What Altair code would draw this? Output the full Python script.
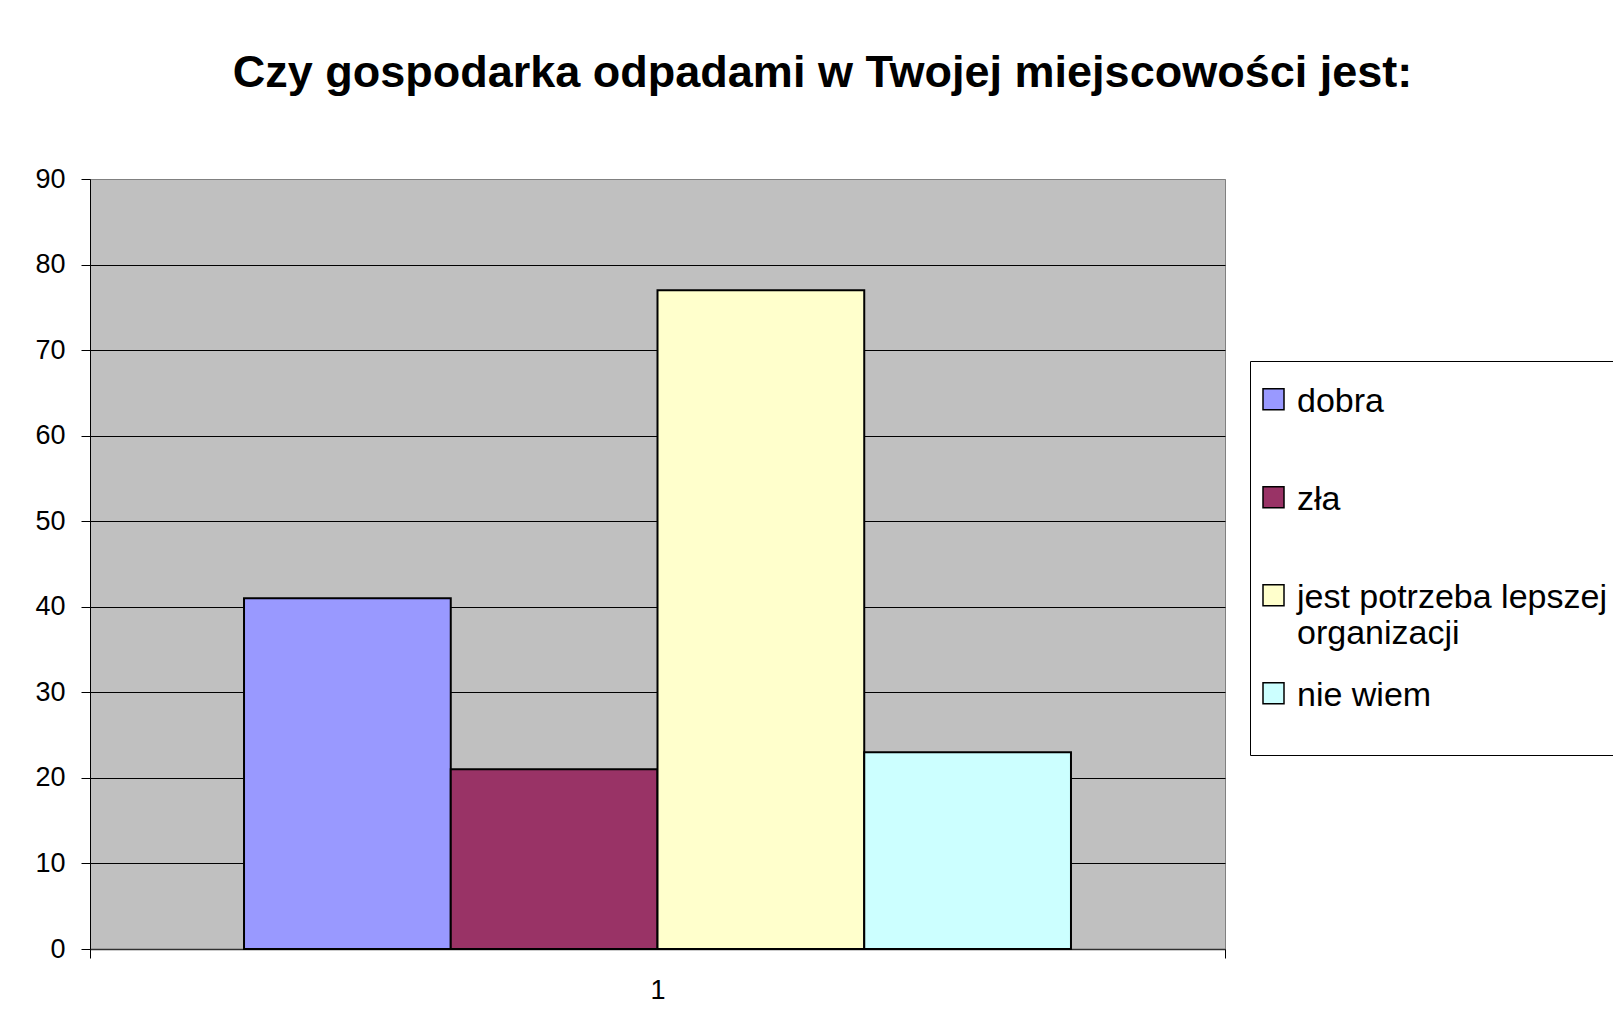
import altair as alt
import pandas as pd

# --- data ---
categories = ["dobra", "zła", "jest potrzeba lepszej organizacji", "nie wiem"]
values = [41, 21, 77, 23]
colors = ["#9999FF", "#993366", "#FFFFCC", "#CCFFFF"]
group_label = ["1", "1", "1", "1"]
y_ticks = [0, 10, 20, 30, 40, 50, 60, 70, 80, 90]
title_text = "Czy gospodarka odpadami w Twojej miejscowości jest:"

df = pd.DataFrame({"grupa": group_label, "kategoria": categories, "wartosc": values})

FONT = "Liberation Sans"

legend_label_expr = (
    "datum.label == 'jest potrzeba lepszej organizacji' "
    "? ['jest potrzeba lepszej', 'organizacji'] : [datum.label, ' ']"
)

chart = (
    alt.Chart(df)
    .mark_bar(stroke="black", strokeWidth=2, opacity=1)
    .encode(
        x=alt.X(
            "grupa:N",
            title=None,
            scale=alt.Scale(paddingInner=0, paddingOuter=0),
            axis=alt.Axis(
                labelAngle=0,
                tickBand="extent",
                ticks=True,
                tickSize=9,
                tickColor="black",
                domainColor="#303030",
                domainWidth=1.5,
                labelFontSize=27,
                labelFont=FONT,
                labelColor="black",
                labelPadding=19,
                grid=False,
            ),
        ),
        xOffset=alt.XOffset(
            "kategoria:N",
            sort=categories,
            scale=alt.Scale(paddingOuter=0.745, paddingInner=0),
        ),
        y=alt.Y(
            "wartosc:Q",
            title=None,
            scale=alt.Scale(domain=[0, 90], nice=False, zero=True),
            axis=alt.Axis(
                values=y_ticks,
                tickSize=9,
                tickColor="black",
                domainColor="black",
                labelFontSize=27,
                labelFont=FONT,
                labelColor="black",
                labelPadding=16,
                grid=True,
                gridColor={
                    "condition": {"test": "datum.value === 90", "value": "#808080"},
                    "value": "black",
                },
                gridWidth=1,
            ),
        ),
        color=alt.Color(
            "kategoria:N",
            sort=categories,
            scale=alt.Scale(domain=categories, range=colors),
            legend=alt.Legend(
                title=None,
                orient="none",
                legendX=1160,
                legendY=182,
                padding=6.5,
                strokeColor="black",
                fillColor="white",
                labelFont=FONT,
                labelFontSize=34,
                labelColor="black",
                labelLimit=1000,
                labelBaseline="top",
                labelExpr=legend_label_expr,
                labelOffset=6.5,
                rowPadding=11,
                symbolType="M-1,0.41L1,0.41L1,2.41L-1,2.41Z",
                symbolSize=441,
                symbolStrokeColor="black",
                symbolStrokeWidth=1.5,
                symbolOpacity=1,
            ),
        ),
    )
    .properties(
        width=1135,
        height=770,
        background="white",
        autosize=alt.AutoSizeParams(type="none"),
        padding={"left": 82, "top": 171, "right": 388, "bottom": 77},
        title=alt.TitleParams(
            text=title_text,
            font=FONT,
            fontSize=45,
            fontWeight="bold",
            color="black",
            anchor="middle",
            dx=165,
            baseline="alphabetic",
            offset=33,
        ),
    )
    .configure_view(fill="#C0C0C0", stroke="#808080", strokeWidth=1)
)

chart.save("out.html", embed_options={"renderer": "svg", "actions": False})
